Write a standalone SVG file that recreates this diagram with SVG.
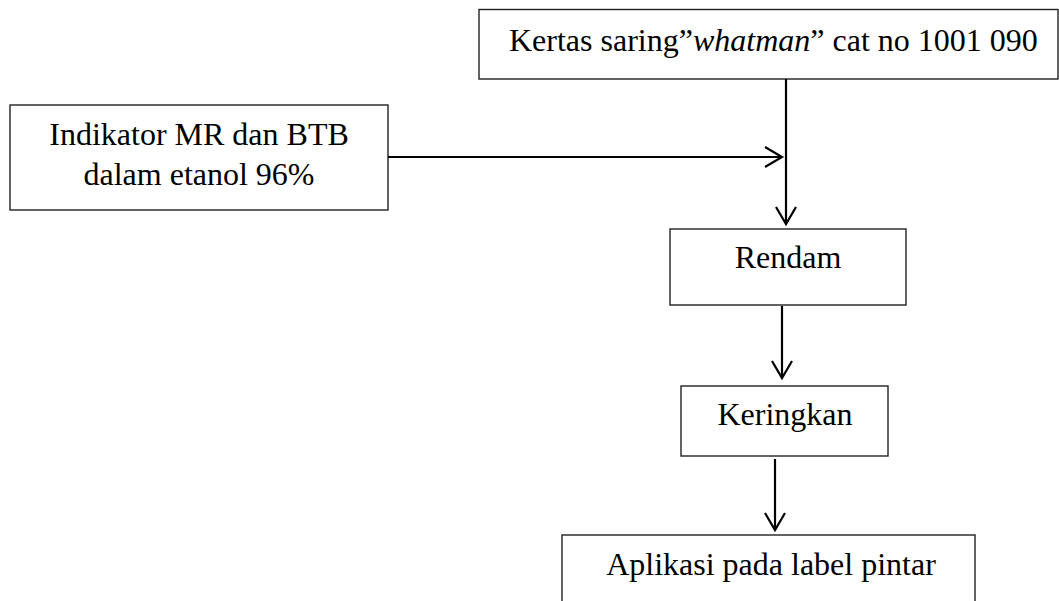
<svg xmlns="http://www.w3.org/2000/svg" width="1059" height="601" viewBox="0 0 1059 601">
<style>
.box{fill:#fff;stroke:#222;stroke-width:1.4}
.t{font-family:'Liberation Serif','Times New Roman','DejaVu Serif',serif;font-size:32px;fill:#000}
.c{text-anchor:middle}
.conn{stroke:#000;stroke-width:2.2;fill:none;marker-end:url(#arr)}
</style>
<defs>
<marker id="arr" markerUnits="userSpaceOnUse" markerWidth="30" markerHeight="30" viewBox="-20 -15 24 30" refX="0" refY="0" orient="auto" overflow="visible">
<path d="M-17,-10 L0,0 L-17,10" fill="none" stroke="#000" stroke-width="2.2"/>
</marker>
</defs>
<rect width="1059" height="601" fill="#fff"/>
<g id="kertas">
<rect class="box" x="479" y="9.5" width="579" height="69.5"/>
<text class="t" x="509" y="51" font-family="Liberation Serif, serif">Kertas saring”<tspan font-style="italic">whatman</tspan>” cat no 1001 090</text>
</g>
<g id="indikator">
<rect class="box" x="10" y="105" width="378" height="105"/>
<text class="t c" x="199" y="145">Indikator MR dan BTB</text>
<text class="t c" x="199" y="185">dalam etanol 96%</text>
</g>
<g id="rendam">
<rect class="box" x="670" y="229" width="236" height="76"/>
<text class="t c" x="788" y="268">Rendam</text>
</g>
<g id="keringkan">
<rect class="box" x="681" y="386" width="207" height="70"/>
<text class="t c" x="785" y="425">Keringkan</text>
</g>
<g id="aplikasi">
<rect class="box" x="562" y="535" width="413" height="80"/>
<text class="t c" x="771" y="575">Aplikasi pada label pintar</text>
</g>
<g id="connectors">
<line class="conn" x1="388" y1="157" x2="782" y2="157"/>
<line class="conn" x1="786" y1="79" x2="786" y2="224"/>
<line class="conn" x1="782" y1="306" x2="782" y2="378"/>
<line class="conn" x1="775" y1="459" x2="775" y2="530"/>
</g>
</svg>
